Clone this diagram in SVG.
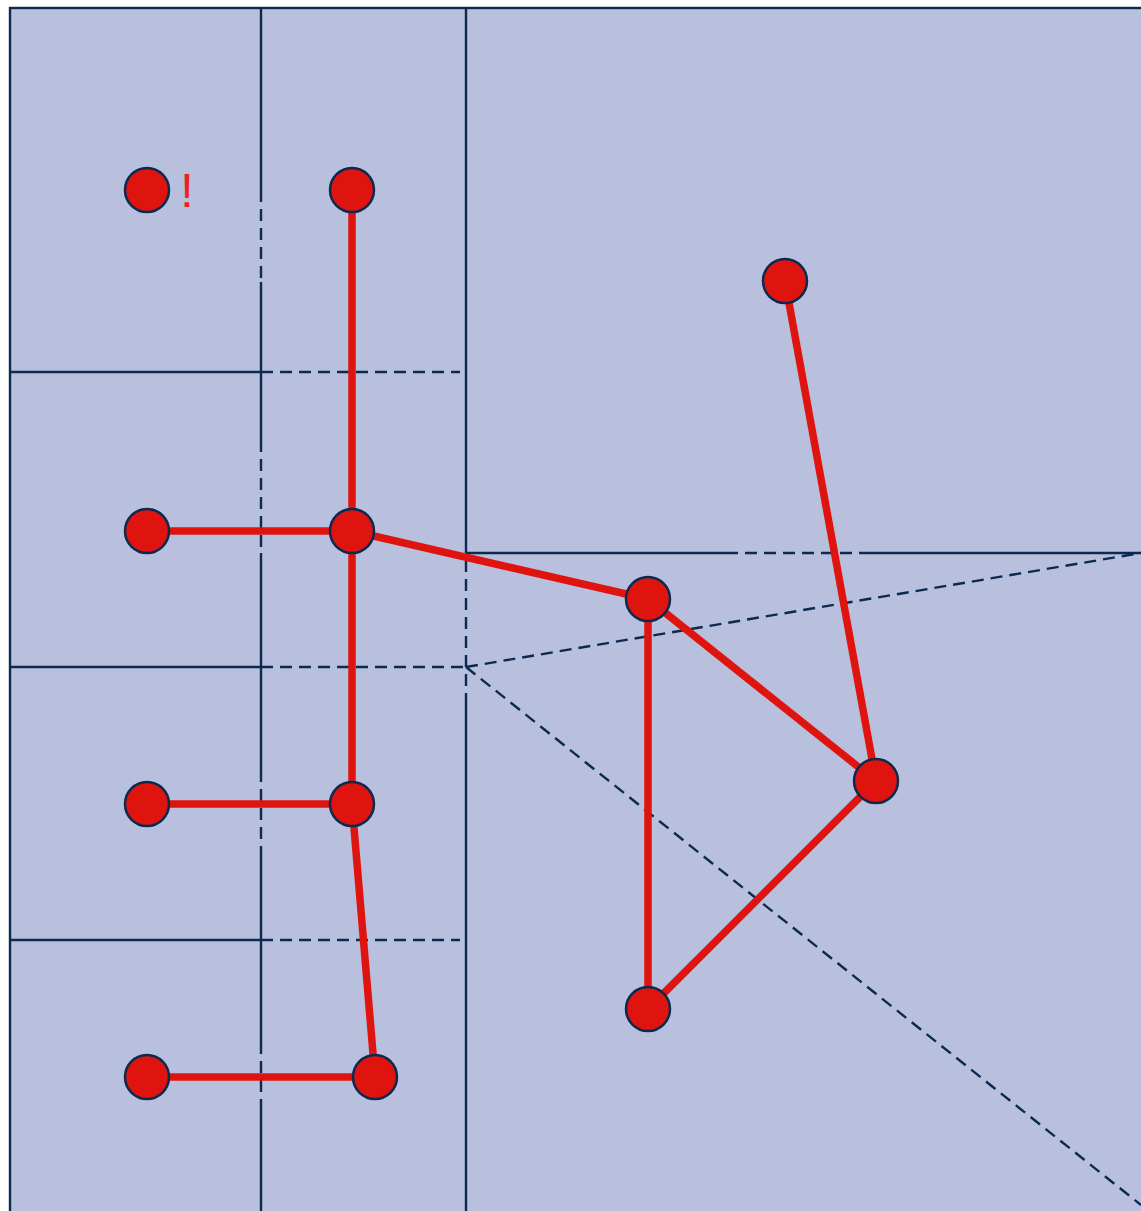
<svg xmlns="http://www.w3.org/2000/svg" width="1141" height="1211" viewBox="0 0 1141 1211">
<style>
.g{stroke:#0c2a4f;stroke-width:2.4;fill:none}
.d{stroke:#0c2a4f;stroke-width:2.4;fill:none;stroke-dasharray:12 7}
.e{stroke:#e0140f;stroke-width:7.5;fill:none}
.n{fill:#e0140f;stroke:#0c2a4f;stroke-width:2.5}
</style>
<rect x="0" y="0" width="1141" height="1211" fill="#ffffff"/>
<g id="regions">
<rect x="10" y="8" width="1140" height="1220" fill="#b8c0de" stroke="#0c2a4f" stroke-width="2.4"/>
<line class="g" x1="261" y1="8" x2="261" y2="190"/>
<line class="d" x1="261" y1="190" x2="261" y2="282"/>
<line class="g" x1="261" y1="282" x2="261" y2="440"/>
<line class="d" x1="261" y1="440" x2="261" y2="553"/>
<line class="g" x1="261" y1="553" x2="261" y2="770"/>
<line class="d" x1="261" y1="770" x2="261" y2="850"/>
<line class="g" x1="261" y1="850" x2="261" y2="1042"/>
<line class="d" x1="261" y1="1042" x2="261" y2="1100"/>
<line class="g" x1="261" y1="1100" x2="261" y2="1211"/>
<line class="g" x1="466" y1="8" x2="466" y2="553"/>
<line class="d" x1="466" y1="560" x2="466" y2="705"/>
<line class="g" x1="466" y1="705" x2="466" y2="1211"/>
<line class="g" x1="10" y1="372" x2="261" y2="372"/>
<line class="d" x1="261" y1="372" x2="460" y2="372"/>
<line class="g" x1="10" y1="667" x2="261" y2="667"/>
<line class="d" x1="261" y1="667" x2="466" y2="667"/>
<line class="g" x1="10" y1="940" x2="261" y2="940"/>
<line class="d" x1="261" y1="940" x2="460" y2="940"/>
<line class="g" x1="466" y1="553" x2="726" y2="553"/>
<line class="d" x1="726" y1="553" x2="868" y2="553"/>
<line class="g" x1="868" y1="553" x2="1141" y2="553"/>
<line class="d" x1="466" y1="667" x2="1141" y2="553"/>
<line class="d" x1="466" y1="667" x2="1141" y2="1205"/>
</g>
<g id="connectors">
<line class="e" x1="352" y1="190" x2="352" y2="531"/>
<line class="e" x1="147" y1="531" x2="352" y2="531"/>
<line class="e" x1="352" y1="531" x2="648" y2="599"/>
<line class="e" x1="352" y1="531" x2="352" y2="804"/>
<line class="e" x1="147" y1="804" x2="352" y2="804"/>
<line class="e" x1="352" y1="804" x2="375" y2="1077"/>
<line class="e" x1="147" y1="1077" x2="375" y2="1077"/>
<line class="e" x1="648" y1="599" x2="876" y2="781"/>
<line class="e" x1="648" y1="599" x2="648" y2="1009"/>
<line class="e" x1="648" y1="1009" x2="876" y2="781"/>
<line class="e" x1="785" y1="281" x2="876" y2="781"/>
</g>
<g id="n1"><circle class="n" cx="147" cy="190" r="22"/><text x="187" y="207" font-family="Liberation Sans, sans-serif" font-size="48" fill="#f02020" text-anchor="middle">!</text></g>
<g id="n2"><circle class="n" cx="352" cy="190" r="22"/></g>
<g id="n3"><circle class="n" cx="785" cy="281" r="22"/></g>
<g id="n4"><circle class="n" cx="147" cy="531" r="22"/></g>
<g id="n5"><circle class="n" cx="352" cy="531" r="22"/></g>
<g id="n6"><circle class="n" cx="648" cy="599" r="22"/></g>
<g id="n7"><circle class="n" cx="876" cy="781" r="22"/></g>
<g id="n8"><circle class="n" cx="147" cy="804" r="22"/></g>
<g id="n9"><circle class="n" cx="352" cy="804" r="22"/></g>
<g id="n10"><circle class="n" cx="648" cy="1009" r="22"/></g>
<g id="n11"><circle class="n" cx="147" cy="1077" r="22"/></g>
<g id="n12"><circle class="n" cx="375" cy="1077" r="22"/></g>
</svg>
